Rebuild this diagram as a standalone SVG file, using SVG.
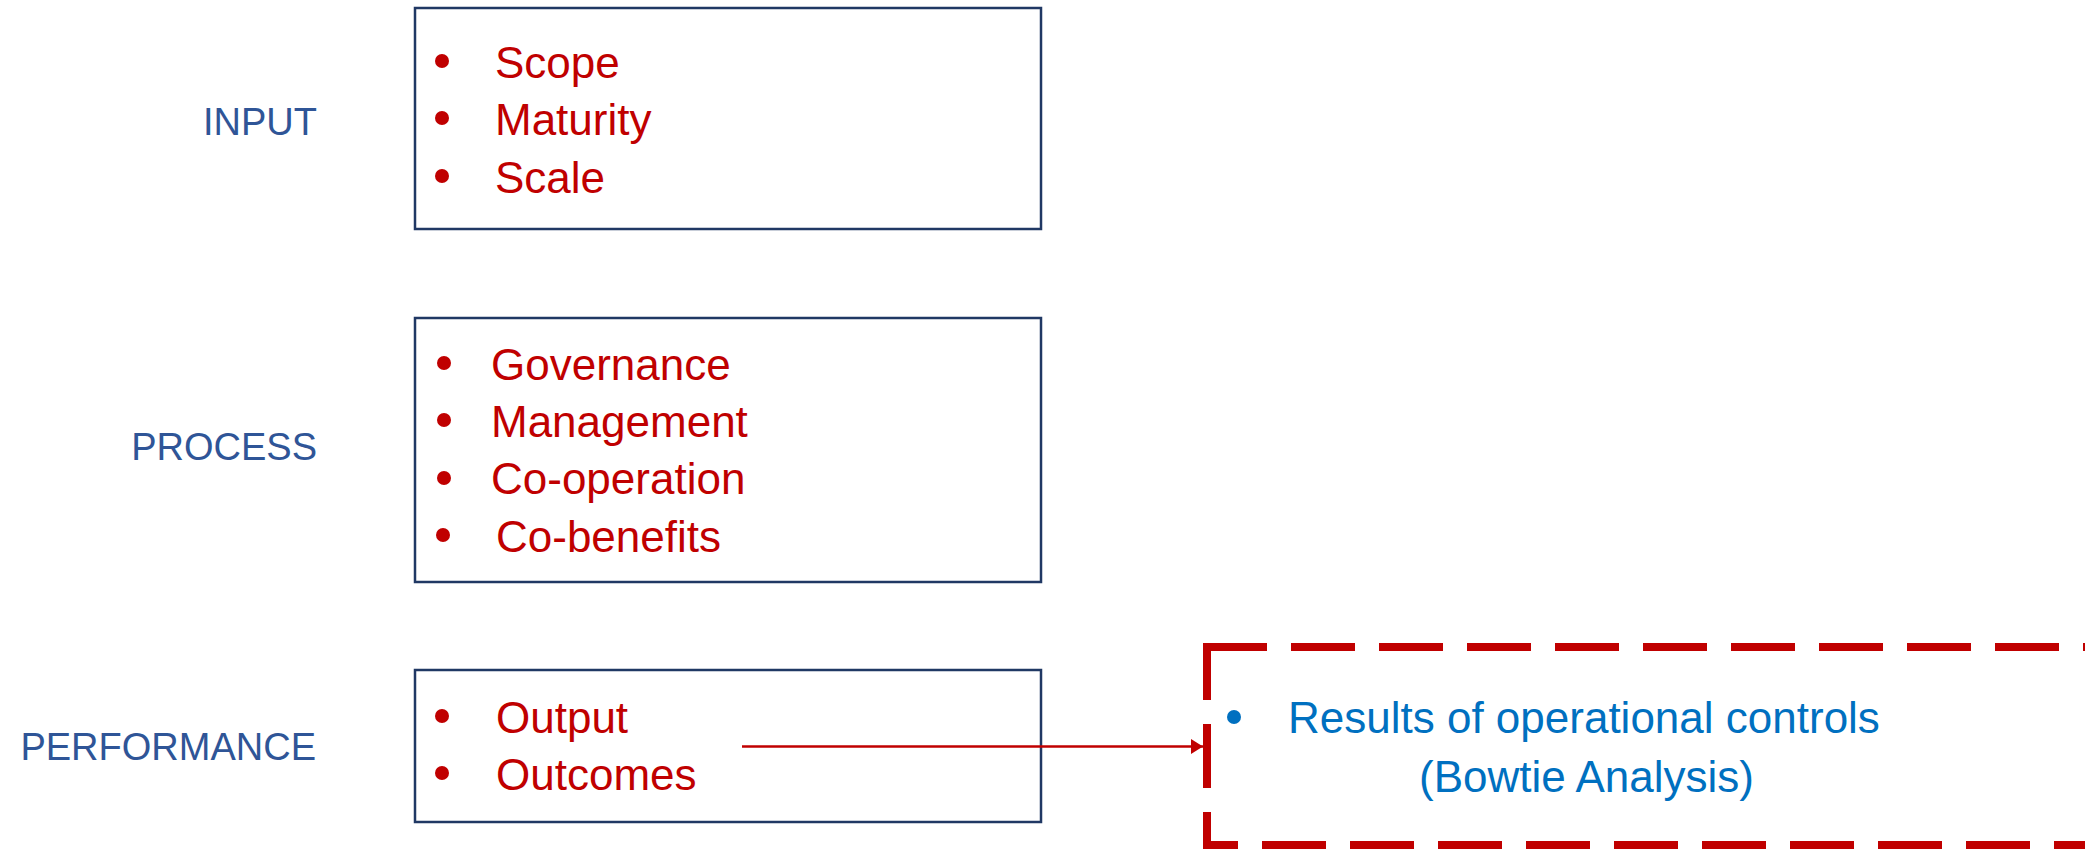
<svg xmlns="http://www.w3.org/2000/svg" width="2085" height="849" viewBox="0 0 2085 849">
  <defs>
    <style>
      .box { fill: #ffffff; stroke: #203864; stroke-width: 2.5; }
      .label { font-family: "Liberation Sans", Arial, sans-serif; font-size: 38px; fill: #2F5597; text-anchor: end; }
      .item { font-family: "Liberation Sans", Arial, sans-serif; font-size: 44px; fill: #C00000; }
      .bullet { fill: #C00000; }
      .res { font-family: "Liberation Sans", Arial, sans-serif; font-size: 44px; fill: #0070C0; }
      .dash { fill: none; stroke: #C00000; stroke-width: 8; stroke-dasharray: 64 24; }
      .conn { stroke: #C00000; stroke-width: 2.5; fill: none; }
    </style>
    <marker id="arrow" markerUnits="userSpaceOnUse" markerWidth="14" markerHeight="16" refX="12" refY="7.5" orient="auto">
      <path d="M0,0 L12,7.5 L0,15 Z" fill="#C00000"/>
    </marker>
  </defs>
  <rect width="2085" height="849" fill="#ffffff"/>

  <g id="input">
    <text class="label" x="317" y="135">INPUT</text>
    <rect class="box" x="415" y="8" width="626" height="221"/>
    <circle class="bullet" cx="442" cy="61" r="7"/>
    <circle class="bullet" cx="442" cy="118" r="7"/>
    <circle class="bullet" cx="442" cy="176" r="7"/>
    <text class="item" x="495" y="78">Scope</text>
    <text class="item" x="495" y="135">Maturity</text>
    <text class="item" x="495" y="193">Scale</text>
  </g>

  <g id="process">
    <text class="label" x="317" y="460">PROCESS</text>
    <rect class="box" x="415" y="318" width="626" height="264"/>
    <circle class="bullet" cx="444" cy="363" r="7"/>
    <circle class="bullet" cx="444" cy="420" r="7"/>
    <circle class="bullet" cx="444" cy="478" r="7"/>
    <circle class="bullet" cx="443" cy="535" r="7"/>
    <text class="item" x="491" y="380">Governance</text>
    <text class="item" x="491" y="437">Management</text>
    <text class="item" x="491" y="494">Co-operation</text>
    <text class="item" x="496" y="552">Co-benefits</text>
  </g>

  <g id="performance">
    <text class="label" x="316" y="760">PERFORMANCE</text>
    <rect class="box" x="415" y="670" width="626" height="152"/>
    <circle class="bullet" cx="442" cy="716" r="7"/>
    <circle class="bullet" cx="442" cy="773" r="7"/>
    <text class="item" x="496" y="733">Output</text>
    <text class="item" x="496" y="790">Outcomes</text>
  </g>

  <g id="results">
    <path class="dash" d="M1203,647 H2100"/>
    <path class="dash" d="M1207,647 V845 H2100" stroke-dashoffset="11"/>
    <circle cx="1234" cy="717" r="7" fill="#0070C0"/>
    <text class="res" x="1288" y="733">Results of operational controls</text>
    <text class="res" x="1419" y="792">(Bowtie Analysis)</text>
  </g>

  <g id="connectors">
    <path class="conn" d="M742,746.5 H1203" marker-end="url(#arrow)"/>
  </g>
</svg>
